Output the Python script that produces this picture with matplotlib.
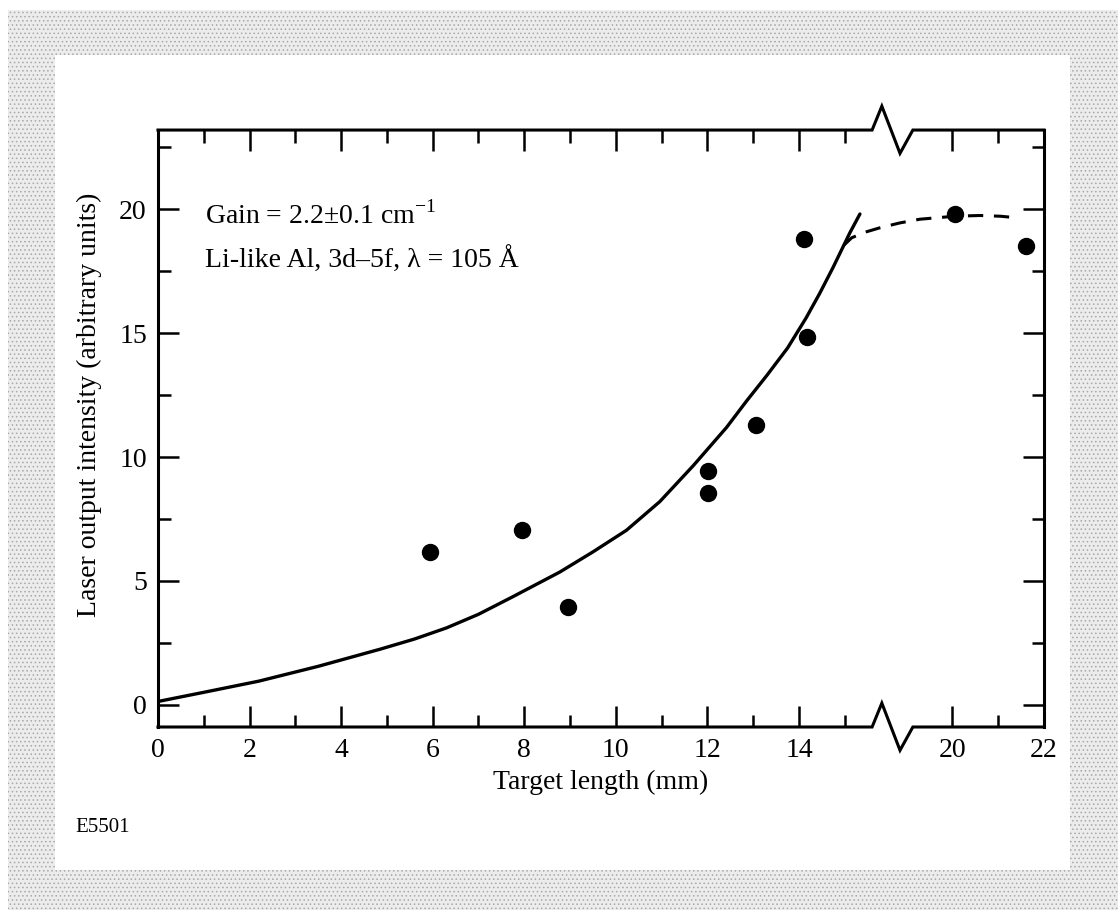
import numpy as np
import matplotlib
matplotlib.use('Agg')
from matplotlib import pyplot as plt
from matplotlib.patches import Rectangle
from matplotlib.lines import Line2D

plt.rcParams['font.family'] = 'Liberation Serif'
plt.rcParams['mathtext.fontset'] = 'custom'
plt.rcParams['mathtext.rm'] = 'Liberation Serif'
plt.rcParams['hatch.linewidth'] = 0.6

# measured points (target length mm, intensity)
length = [5.95, 7.95, 8.95, 12.02, 12.02, 13.06, 14.1, 14.18, 20.05, 21.6]
intensity = [6.15, 7.05, 3.95, 9.45, 8.55, 11.3, 18.8, 14.85, 19.8, 18.5]

# gain fit (solid)
fit_x = [0, 1, 2.2, 3.5, 4.85, 5.6, 6.3, 7.0, 7.75, 8.78, 9.5, 10.23, 10.96,
         11.69, 12.42, 12.85, 13.3, 13.75, 14.15, 14.45, 14.74, 15.11, 15.33]
fit_y = [0.13, 0.5, 0.95, 1.55, 2.24, 2.65, 3.1, 3.65, 4.36, 5.36, 6.17, 7.04, 8.2,
         9.65, 11.2, 12.25, 13.3, 14.4, 15.6, 16.6, 17.64, 19.05, 19.81]

# saturation trend (dashed)
sat_x = [14.98, 15.15, 15.45, 16.23, 17.97, 19.29, 20.05, 20.6, 21.05, 21.45]
sat_y = [18.55, 18.85, 19.08, 19.25, 19.45, 19.6, 19.72, 19.75, 19.72, 19.65]

major_x = [0, 2, 4, 6, 8, 10, 12, 14, 20, 22]
minor_x = [1, 3, 5, 7, 9, 11, 13, 15, 21]
major_y = [0, 5, 10, 15, 20]
minor_y = [2.5, 7.5, 12.5, 17.5, 22.5]

# broken x axis: squeeze 15.6..19.15 into a short gap
brk_lo, brk_hi_u, shift = 15.6, 16.5, 2.65
brk_hi = brk_hi_u + shift


def fwd(x):
    x = np.asarray(x, float)
    mid = brk_lo + (x - brk_lo) * (brk_hi_u - brk_lo) / (brk_hi - brk_lo)
    return np.where(x <= brk_lo, x, np.where(x >= brk_hi, x - shift, mid))


def inv(u):
    u = np.asarray(u, float)
    mid = brk_lo + (u - brk_lo) * (brk_hi - brk_lo) / (brk_hi_u - brk_lo)
    return np.where(u <= brk_lo, u, np.where(u >= brk_hi_u, u + shift, mid))


fig = plt.figure(figsize=(11.18, 9.10), dpi=100)
fig.patches.append(Rectangle((0.007, 0), 1, 0.989, transform=fig.transFigure,
                             facecolor='#ececec', edgecolor='#a8a8a8', hatch='....',
                             lw=0, zorder=-10))
fig.patches.append(Rectangle((0.0492, 0.044), 0.9079, 0.8956, transform=fig.transFigure,
                             facecolor='white', lw=0, zorder=-9))

ax = fig.add_axes([0.1413, 0.2011, 0.7925, 0.656])
ax.set_facecolor('none')
ax.set_xscale('function', functions=(fwd, inv))
ax.set_xlim(0, 22)
ax.set_ylim(-0.9, 23.2)

ax.plot(fit_x, fit_y, color='black', lw=2.4, solid_capstyle='round',
        solid_joinstyle='round')
ax.plot(sat_x, sat_y, color='black', lw=2.2, linestyle=(0, (5, 3.5)))
ax.plot(length, intensity, 'o', color='black', markersize=11.5)

ax.set_xticks(major_x)
ax.set_xticklabels([str(v) for v in major_x])
ax.set_xticks(minor_x, minor=True)
ax.set_yticks(major_y)
ax.set_yticks(minor_y, minor=True)
ax.tick_params(which='both', direction='in', top=True, right=True, width=1.8,
               labelsize=20, color='black')
ax.tick_params(which='major', length=15, pad=8)
ax.tick_params(which='minor', length=9)

for side in ['left', 'right']:
    ax.spines[side].set_linewidth(2.2)
for side in ['top', 'bottom']:
    ax.spines[side].set_visible(False)

# top and bottom frame with the break zigzag
zx = [0, 0.806, 0.817, 0.8375, 0.852, 1]
zy = [0, 0, 0.04, -0.039, 0, 0]
for base in [0, 1]:
    ax.add_line(Line2D(zx, [base + v for v in zy], transform=ax.transAxes,
                       color='black', lw=2.2, clip_on=False,
                       solid_joinstyle='miter'))

ax.set_xlabel('Target length (mm)', fontsize=20, labelpad=5)
ax.set_ylabel('Laser output intensity (arbitrary units)', fontsize=20)
ax.yaxis.set_label_coords(-0.063, 0.54)

ax.text(1.03, 19.44, 'Gain = 2.2\u00b10.1 cm$^{\\mathrm{-1}}$', fontsize=20, va='baseline')
ax.text(1.03, 17.63, 'Li-like Al, 3d\u20135f, \u03bb = 105 \u00c5', fontsize=20, va='baseline')

fig.text(75 / 1118, 1 - 832 / 910, 'E5501', fontsize=15, va='baseline')

fig.savefig('out.png', dpi=100)
